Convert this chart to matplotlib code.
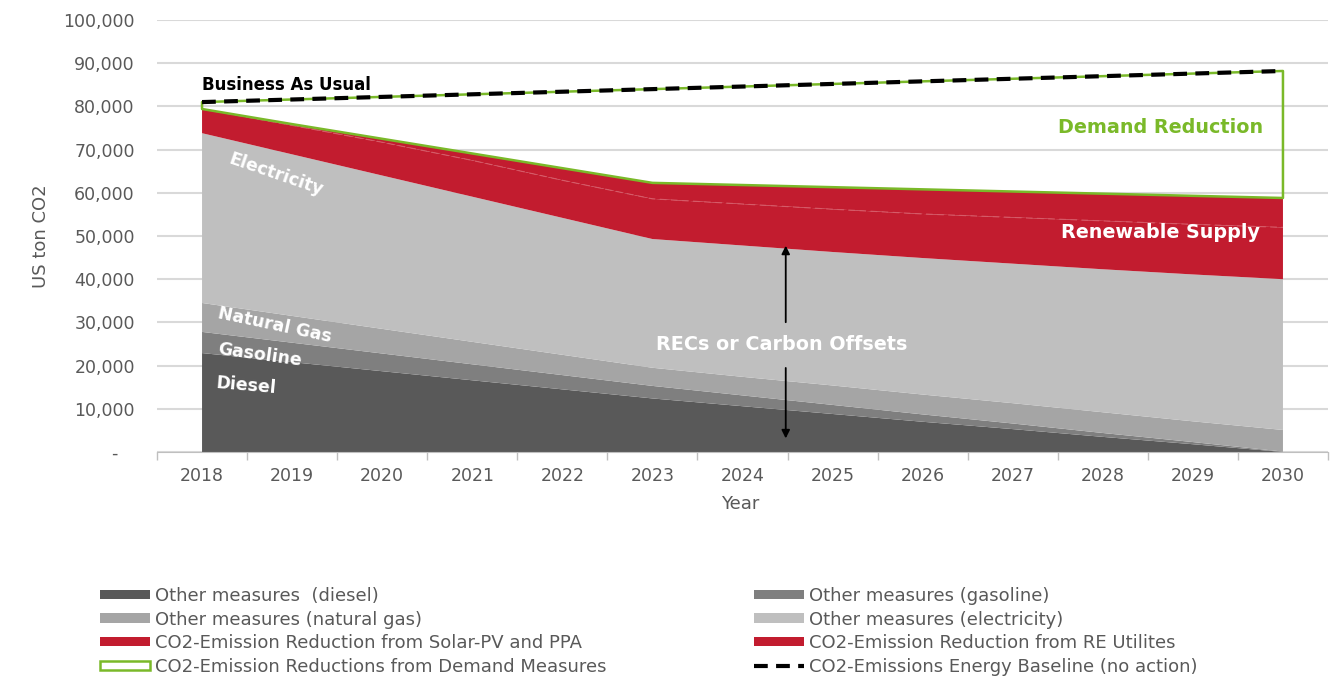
import numpy as np
import matplotlib
matplotlib.use("Agg")
from matplotlib import pyplot as plt
from matplotlib.patches import Patch
from matplotlib.lines import Line2D

# Data (US ton CO2 per year)
years = ["2018", "2019", "2020", "2021", "2022", "2023", "2024",
         "2025", "2026", "2027", "2028", "2029", "2030"]
diesel = [22900, 20800, 18700, 16600, 14500, 12400, 10600, 8800, 7000, 5300, 3500, 1800, 0]
gasoline = [4900, 4500, 4100, 3700, 3300, 2900, 2500, 2100, 1700, 1300, 900, 500, 100]
natural_gas = [6700, 6200, 5700, 5200, 4700, 4200, 4300, 4500, 4600, 4700, 4800, 4800, 5000]
electricity = [39300, 37400, 35500, 33600, 31700, 29800, 30400, 30900, 31600, 32300, 33100, 34000, 34900]
solar_ppa = [5600, 6700, 7700, 8400, 8700, 9300, 9600, 9900, 10200, 10700, 11200, 11600, 12000]
re_utilities = [0, 300, 800, 1600, 2800, 3700, 4400, 5100, 5700, 6000, 6300, 6600, 6800]
demand = [1600, 5700, 9700, 13700, 17700, 21700, 22800, 23900, 25000, 26100, 27200, 28300, 29400]
baseline = [81000, 81600, 82200, 82800, 83400, 84000, 84600, 85200, 85800, 86400, 87000, 87600, 88200]

# Colours
C_DIESEL = "#595959"
C_GASOLINE = "#7F7F7F"
C_NATGAS = "#A5A5A5"
C_ELEC = "#BFBFBF"
C_RED = "#C21C2F"
C_GREEN = "#7AB929"
C_TEXT = "#595959"

plt.rcParams["font.family"] = ["DejaVu Sans"]

fig = plt.figure(figsize=(13.41, 6.82), dpi=100)
ax = fig.add_axes([157 / 1341, 1 - 452 / 682, (1328 - 157) / 1341, (452 - 20) / 682])

x = np.arange(len(years))
layers = [diesel, gasoline, natural_gas, electricity, solar_ppa, re_utilities]
ax.stackplot(x, layers, colors=[C_DIESEL, C_GASOLINE, C_NATGAS, C_ELEC, C_RED, C_RED],
             lw=0, zorder=2)
cum = np.cumsum(layers, axis=0)

# grens tussen de twee rode series
ax.plot(x, cum[4], color="#D65B68", lw=0.8, dashes=(6, 4), zorder=3)

red_top = cum[5]
ax.fill_between(x, red_top, red_top + np.array(demand), facecolor="none",
                edgecolor=C_GREEN, lw=1.8, zorder=3)
ax.plot(x, baseline, color="black", lw=3, dashes=(3.3, 2), zorder=4)

# Assen
ax.set_xlim(-0.5, len(years) - 0.5)
ax.set_ylim(0, 100000)
ax.set_yticks(np.arange(0, 100001, 10000))
ax.yaxis.set_major_formatter(lambda v, p: f"{v:,.0f}" if v else "-   ")
ax.set_xticks(x)
ax.set_xticklabels(years)
ax.set_xticks(np.arange(-0.5, len(years), 1), minor=True)
ax.tick_params(axis="x", which="major", length=0, pad=11, labelsize=12.5, labelcolor=C_TEXT)
ax.tick_params(axis="x", which="minor", length=6, color="#BFBFBF", width=1)
ax.tick_params(axis="y", length=0, pad=16, labelsize=12.5, labelcolor=C_TEXT)
for s in ["left", "top", "right"]:
    ax.spines[s].set_visible(False)
ax.spines["bottom"].set_color("#BFBFBF")
ax.yaxis.grid(True, color="#D9D9D9", lw=1.5)
ax.set_axisbelow(True)

ax.set_ylabel("US ton CO2", fontsize=13, color=C_TEXT)
ax.yaxis.set_label_coords(-0.091, 0.5)
ax.set_xlabel("Year", fontsize=13, color=C_TEXT)
ax.xaxis.set_label_coords(0.498, -0.1)

# Teksten in de grafiek
ax.text(0.0, 84900, "Business As Usual", fontsize=12, fontweight="bold", color="black",
        ha="left", va="center", zorder=5)
ax.text(11.78, 75200, "Demand Reduction", fontsize=13.8, fontweight="bold", color=C_GREEN,
        ha="right", va="center")
ax.text(11.75, 50900, "Renewable Supply", fontsize=13.8, fontweight="bold", color="white",
        ha="right", va="center", zorder=5)
ax.text(6.44, 24800, "RECs or Carbon Offsets", fontsize=13.8, fontweight="bold", color="white",
        ha="center", va="center", zorder=5)

ax.annotate("", xy=(6.48, 48400), xytext=(6.48, 29400),
            arrowprops=dict(arrowstyle="-|>", color="black", lw=1.3, mutation_scale=12), zorder=5)
ax.annotate("", xy=(6.48, 2500), xytext=(6.48, 20100),
            arrowprops=dict(arrowstyle="-|>", color="black", lw=1.3, mutation_scale=12), zorder=5)

for label, px, py, rot in [("Electricity", 276, 175, -19),
                           ("Natural Gas", 275, 325, -12),
                           ("Gasoline", 260, 355, -8),
                           ("Diesel", 246, 386, -5)]:
    ax.text((px - 202.5) / 90, (452 - py) / 43.2 * 10000, label, fontsize=12.5,
            fontweight="bold", color="white", rotation=rot, ha="center", va="center",
            rotation_mode="anchor", zorder=5)

# Legenda (twee kolommen)
h_left = [Patch(facecolor=C_DIESEL, edgecolor="none"),
          Patch(facecolor=C_NATGAS, edgecolor="none"),
          Patch(facecolor=C_RED, edgecolor="none"),
          Patch(facecolor="white", edgecolor=C_GREEN, lw=1.8)]
l_left = ["Other measures  (diesel)", "Other measures (natural gas)",
          "CO2-Emission Reduction from Solar-PV and PPA",
          "CO2-Emission Reductions from Demand Measures"]
h_right = [Patch(facecolor=C_GASOLINE, edgecolor="none"),
           Patch(facecolor=C_ELEC, edgecolor="none"),
           Patch(facecolor=C_RED, edgecolor="none"),
           Line2D([], [], color="black", lw=3, dashes=(3.3, 2))]
l_right = ["Other measures (gasoline)", "Other measures (electricity)",
           "CO2-Emission Reduction from RE Utilites",
           "CO2-Emissions Energy Baseline (no action)"]

for handles, labels, x0 in [(h_left, l_left, 100), (h_right, l_right, 754)]:
    leg = fig.legend(handles, labels, loc="upper left",
                     bbox_to_anchor=(x0 / 1341, 1 - 587 / 682),
                     frameon=False, fontsize=13, handlelength=2.75, handleheight=0.42,
                     handletextpad=0.3, labelspacing=0.31, borderpad=0, borderaxespad=0)
    for t in leg.get_texts():
        t.set_color(C_TEXT)

fig.savefig("out.png", dpi=100)
